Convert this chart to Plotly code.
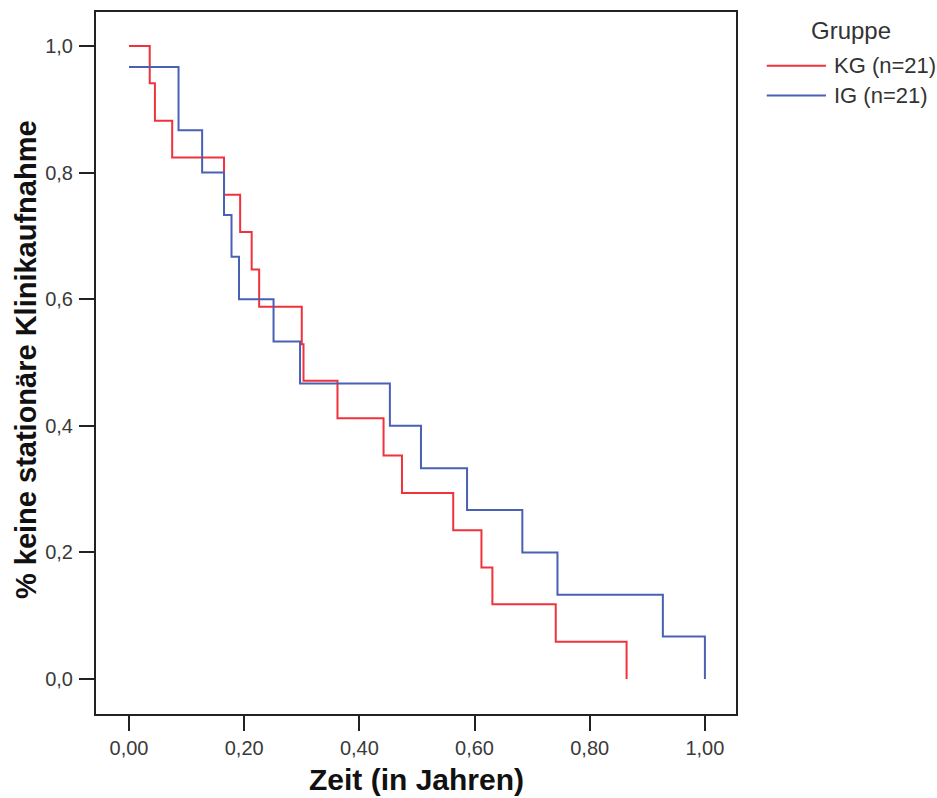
import plotly.graph_objects as go

# Kaplan-Meier step data
kg_time = [0.0, 0.036, 0.045, 0.075, 0.165, 0.193, 0.213, 0.226, 0.300, 0.303,
           0.362, 0.442, 0.474, 0.563, 0.612, 0.631, 0.741, 0.864]
kg_surv = [1.0, 0.941, 0.882, 0.824, 0.765, 0.706, 0.647, 0.588, 0.529, 0.471,
           0.412, 0.353, 0.294, 0.235, 0.176, 0.118, 0.059, 0.0]

ig_time = [0.0, 0.086, 0.127, 0.165, 0.178, 0.191, 0.251, 0.297, 0.453, 0.507,
           0.587, 0.683, 0.744, 0.927, 1.0]
ig_surv = [0.967, 0.867, 0.800, 0.733, 0.667, 0.600, 0.533, 0.467, 0.400, 0.333,
           0.267, 0.200, 0.133, 0.067, 0.0]

x_ticks = [0.0, 0.2, 0.4, 0.6, 0.8, 1.0]
y_ticks = [0.0, 0.2, 0.4, 0.6, 0.8, 1.0]

series_names = ["KG (n=21)", "IG (n=21)"]
legend_title = "Gruppe"
x_title = "Zeit (in Jahren)"
y_title = "% keine stationäre Klinikaufnahme"

RED = "#F0323C"
BLUE = "#4A60B5"
FONT = "Liberation Sans, Arial, sans-serif"

fig = go.Figure()
fig.add_trace(go.Scatter(x=kg_time, y=kg_surv, mode="lines", line_shape="hv",
                         line=dict(color=RED, width=2), name=series_names[0]))
fig.add_trace(go.Scatter(x=ig_time, y=ig_surv, mode="lines", line_shape="hv",
                         line=dict(color=BLUE, width=2), name=series_names[1]))

axis_common = dict(showline=True, mirror=True, linecolor="#222222", linewidth=2,
                   ticks="outside", ticklen=15, tickwidth=2, tickcolor="#222222",
                   showgrid=False, zeroline=False,
                   tickfont=dict(family=FONT, size=20, color="#3a3a3a"))

fig.update_layout(
    width=937, height=798,
    margin=dict(l=96, r=201, t=10, b=84),
    paper_bgcolor="white", plot_bgcolor="white",
    separators=",.",
    showlegend=False,
    xaxis=dict(range=[-0.0573, 1.054], tickvals=x_ticks, tickformat=".2f", **axis_common),
    yaxis=dict(range=[-0.0553, 1.0537], tickvals=y_ticks, tickformat=".1f",
               ticklabelstandoff=2, **axis_common),
)

annotations = [
    dict(text=x_title, xref="paper", yref="paper", x=0.5, y=-0.0926,
         showarrow=False, xanchor="center", yanchor="middle",
         font=dict(family=FONT, size=30, color="#111111", weight="bold")),
    dict(text=y_title, xref="paper", yref="paper", x=-0.1085, y=0.505,
         showarrow=False, xanchor="center", yanchor="middle", textangle=-90,
         font=dict(family=FONT, size=29, color="#111111", weight="bold")),
    dict(text=legend_title, xref="paper", yref="paper", x=1.18, y=0.974,
         showarrow=False, xanchor="center", yanchor="middle",
         font=dict(family=FONT, size=24, color="#333333")),
]
legend_colors = [RED, BLUE]
legend_y = [0.9235, 0.881]
shapes = []
for name, col, ly in zip(series_names, legend_colors, legend_y):
    shapes.append(dict(type="line", xref="paper", yref="paper", x0=1.048, x1=1.1406,
                       y0=ly, y1=ly, line=dict(color=col, width=2)))
    annotations.append(dict(text=name, xref="paper", yref="paper", x=1.15, y=ly,
                            showarrow=False, xanchor="left", yanchor="middle",
                            font=dict(family=FONT, size=22, color="#333333")))
fig.update_layout(annotations=annotations, shapes=shapes)

fig.write_html("out.html")
